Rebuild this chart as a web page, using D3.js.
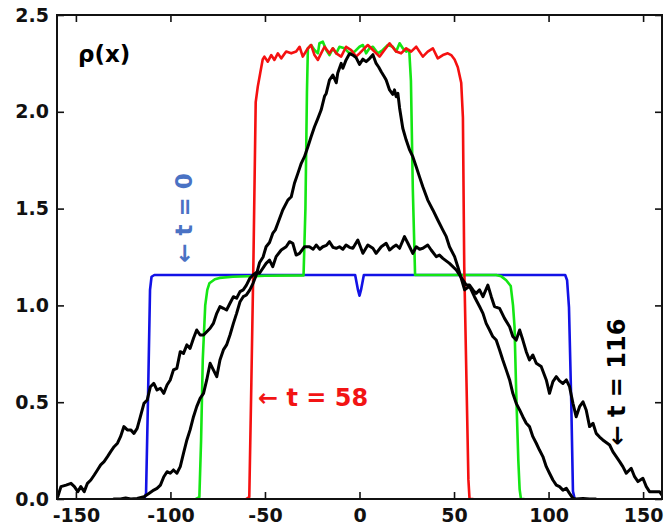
<!DOCTYPE html>
<html>
<head>
<meta charset="utf-8">
<script src="https://cdn.jsdelivr.net/npm/d3@7"></script>
<style>
  html, body { margin: 0; padding: 0; background: #fff; }
  svg { display: block; }
</style>
</head>
<body>
<svg id="chart" width="667" height="531"></svg>
<script>
// ---------------- data ----------------
const xTicks = [-150, -100, -50, 0, 50, 100, 150];
const xTickLabels = ["-150", "-100", "-50", "0", "50", "100", "150"];
const yTicks = [0, 0.5, 1.0, 1.5, 2.0, 2.5];
const yTickLabels = ["0.0", "0.5", "1.0", "1.5", "2.0", "2.5"];

// t = 0 (blue)
const blueT0 = [
  [-113.8, 0], [-112.9, 0.03], [-111.9, 0.5], [-110.8, 1.08], [-110.0, 1.148], [-108.5, 1.157],
  [-2.3, 1.157], [-0.8, 1.08], [0, 1.05], [0.8, 1.08], [2.3, 1.157],
  [108.8, 1.157], [109.8, 1.13], [110.8, 0.99], [112.0, 0.5], [112.9, 0.04], [113.8, 0]
];

// intermediate (green)
const greenMid = [
  [-86.5, 0], [-84.7, 0.01], [-83.8, 0.3], [-82.9, 0.72], [-81.6, 1.0], [-80.5, 1.08], [-79.4, 1.114],
  [-76.5, 1.135], [-74.0, 1.142], [-67.0, 1.148], [-50.0, 1.153], [-29.6, 1.155],
  [-28.6, 1.5], [-27.8, 2.1], [-27.3, 2.328], [-25.6, 2.345], [-23.8, 2.319], [-22.0, 2.302],
  [-21.2, 2.354], [-19.4, 2.362], [-17.6, 2.319], [-15.9, 2.293], [-14.1, 2.328], [-12.3, 2.302],
  [-10.6, 2.336], [-7.9, 2.328], [-5.3, 2.302], [-2.6, 2.311], [0, 2.336], [1.8, 2.345],
  [3.5, 2.302], [5.3, 2.328], [7.1, 2.336], [9.7, 2.302], [12.3, 2.319], [15.0, 2.345],
  [17.6, 2.336], [19.4, 2.311], [21.2, 2.354], [22.9, 2.328], [24.7, 2.311], [26.3, 2.319],
  [27.2, 2.16], [28.2, 1.6], [29.4, 1.157], [50.0, 1.157], [72.3, 1.157], [75.0, 1.15],
  [77.6, 1.13], [80.0, 1.10], [81.2, 1.0], [82.0, 0.89], [82.9, 0.546], [84.0, 0.2],
  [84.7, 0.05], [85.4, 0], [87.0, 0]
];

// t = 58 (red)
const redT58 = [
  [-60.0, 0], [-58.3, 0.01], [-57.2, 0.6], [-56.1, 1.23], [-54.9, 2.05], [-53.8, 2.13],
  [-52.5, 2.2], [-51.2, 2.27], [-50.3, 2.285], [-48.5, 2.259], [-46.7, 2.293], [-45.0, 2.268],
  [-43.2, 2.302], [-41.4, 2.276], [-38.8, 2.311], [-36.1, 2.302], [-33.5, 2.311], [-31.7, 2.336],
  [-30.0, 2.285], [-27.3, 2.328], [-25.6, 2.345], [-23.8, 2.293], [-22.0, 2.268], [-20.3, 2.302],
  [-18.5, 2.336], [-15.9, 2.302], [-14.1, 2.328], [-12.3, 2.302], [-9.7, 2.285], [-7.1, 2.336],
  [-4.4, 2.319], [-1.8, 2.285], [0, 2.302], [2.6, 2.328], [4.4, 2.345], [7.1, 2.319],
  [10.6, 2.285], [13.2, 2.319], [15.9, 2.354], [19.4, 2.311], [22.0, 2.302], [24.7, 2.328],
  [27.3, 2.311], [30.0, 2.336], [33.5, 2.285], [36.1, 2.311], [38.8, 2.328], [41.4, 2.276],
  [44.1, 2.293], [46.7, 2.302], [48.5, 2.293], [50.3, 2.27], [52.0, 2.23], [53.8, 2.15],
  [54.7, 1.97], [55.4, 1.2], [56.6, 0.6], [57.6, 0.1], [58.2, 0], [60.0, 0]
];

// t = 116 (black, narrow / tall)
const blackInner = [
  [-130.0, 0], [-126.4, 0], [-123.7, 0.005], [-121.0, 0], [-117.6, 0.003], [-114.0, 0.012],
  [-111.4, 0.029], [-108.8, 0.046], [-107.1, 0.055], [-105.3, 0.072], [-103.5, 0.115],
  [-101.8, 0.141], [-100.1, 0.133], [-98.4, 0.150], [-96.6, 0.133], [-94.8, 0.167],
  [-93.1, 0.236], [-91.3, 0.305], [-89.6, 0.357], [-87.8, 0.425], [-86.1, 0.477],
  [-84.3, 0.520], [-82.5, 0.546], [-80.8, 0.615], [-79.0, 0.701], [-77.3, 0.667],
  [-75.5, 0.632], [-73.8, 0.718], [-72.0, 0.770], [-70.3, 0.796], [-68.5, 0.847],
  [-66.7, 0.907], [-65.0, 0.959], [-63.2, 1.019], [-61.5, 1.045], [-59.8, 1.054],
  [-58.0, 1.080], [-56.3, 1.114], [-54.5, 1.16], [-52.9, 1.22], [-51.0, 1.25], [-49.4, 1.303],
  [-47.6, 1.325], [-45.9, 1.372], [-44.5, 1.39], [-43.2, 1.424], [-40.6, 1.493], [-37.9, 1.544],
  [-36.1, 1.561], [-34.4, 1.631], [-32.6, 1.682], [-30.8, 1.734], [-29.1, 1.768], [-27.3, 1.820],
  [-25.6, 1.871], [-23.8, 1.923], [-22.0, 1.966], [-20.3, 2.009], [-18.5, 2.08], [-17.6, 2.095],
  [-15.9, 2.164], [-14.1, 2.19], [-12.3, 2.15], [-11.5, 2.2], [-9.7, 2.25], [-8.8, 2.225],
  [-7.1, 2.268], [-5.3, 2.30], [-3.5, 2.293], [-1.8, 2.28], [0, 2.245], [1.8, 2.272],
  [3.5, 2.259], [5.3, 2.275], [7.1, 2.295], [8.8, 2.25], [10.2, 2.23], [11.5, 2.207],
  [13.2, 2.18], [14.1, 2.164], [15.9, 2.113], [17.6, 2.09], [18.5, 2.113], [19.4, 2.078],
  [20.3, 2.095], [21.2, 2.02], [22.9, 1.915], [24.7, 1.854], [26.5, 1.803], [28.2, 1.768],
  [30.0, 1.716], [31.7, 1.665], [33.5, 1.613], [36.1, 1.544], [38.8, 1.493], [41.4, 1.441],
  [44.1, 1.389], [45.9, 1.355], [47.6, 1.303], [50.3, 1.252], [52.0, 1.2], [53.5, 1.15],
  [55.6, 1.08], [58.2, 1.10], [60.8, 1.045], [63.5, 0.994], [65.3, 0.959], [67.0, 0.907],
  [68.8, 0.873], [70.5, 0.839], [72.3, 0.821], [74.1, 0.770], [75.8, 0.718], [77.6, 0.667],
  [79.4, 0.615], [81.1, 0.546], [82.9, 0.494], [84.7, 0.460], [86.4, 0.425], [88.2, 0.391],
  [89.9, 0.374], [91.7, 0.322], [93.5, 0.288], [95.2, 0.253], [97.0, 0.219], [98.8, 0.167],
  [100.5, 0.133], [102.3, 0.098], [104.1, 0.072], [105.8, 0.064], [107.6, 0.046], [109.4, 0.055],
  [111.1, 0.029], [112.9, 0.003], [114.6, 0], [118.2, 0.003], [121.7, 0], [125.0, 0]
];

// t = 116 (black, wide / flat)
const blackOuter = [
  [-160.0, 0.02], [-159.6, 0.012], [-157.9, 0.064], [-155.2, 0.072], [-152.6, 0.081],
  [-150.8, 0.064], [-149.0, 0.038], [-147.4, 0.064], [-145.6, 0.038], [-143.9, 0.081],
  [-142.1, 0.098], [-140.3, 0.124], [-138.6, 0.150], [-136.9, 0.176], [-135.1, 0.193],
  [-133.3, 0.219], [-131.6, 0.245], [-129.8, 0.270], [-128.0, 0.288], [-126.4, 0.322],
  [-124.6, 0.374], [-122.8, 0.357], [-121.0, 0.357], [-119.3, 0.339], [-117.6, 0.365],
  [-115.9, 0.425], [-114.0, 0.494], [-112.3, 0.511], [-110.6, 0.580], [-108.8, 0.597],
  [-107.1, 0.563], [-105.3, 0.572], [-103.5, 0.546], [-101.8, 0.589], [-100.1, 0.615],
  [-98.4, 0.667], [-96.6, 0.675], [-94.8, 0.761], [-93.1, 0.752], [-91.3, 0.796],
  [-89.6, 0.778], [-87.8, 0.830], [-86.1, 0.873], [-84.3, 0.847], [-82.5, 0.847],
  [-80.8, 0.864], [-79.0, 0.882], [-77.3, 0.907], [-75.5, 0.959], [-73.8, 0.994],
  [-72.0, 0.985], [-70.3, 0.976], [-68.5, 1.011], [-66.7, 1.045], [-65.0, 1.037],
  [-63.2, 1.071], [-61.5, 1.080], [-59.8, 1.105], [-58.0, 1.140], [-56.3, 1.157],
  [-54.5, 1.17], [-52.9, 1.166], [-49.4, 1.217], [-47.6, 1.234], [-45.9, 1.2], [-44.1, 1.252],
  [-41.4, 1.286], [-38.8, 1.303], [-37.0, 1.329], [-35.3, 1.321], [-33.5, 1.26], [-31.7, 1.269],
  [-29.1, 1.303], [-26.5, 1.303], [-24.5, 1.29], [-22.9, 1.312], [-21.0, 1.29], [-19.4, 1.303],
  [-17.5, 1.31], [-15.9, 1.329], [-14.0, 1.30], [-12.3, 1.295], [-10.6, 1.303], [-8.8, 1.29],
  [-7.1, 1.312], [-5.3, 1.30], [-3.5, 1.295], [-0.9, 1.338], [1.8, 1.269], [4.4, 1.312],
  [7.1, 1.295], [8.8, 1.269], [11.5, 1.303], [14.1, 1.321], [15.9, 1.286], [17.6, 1.30],
  [19.4, 1.312], [21.2, 1.295], [23.8, 1.355], [25.6, 1.321], [28.2, 1.269], [30.0, 1.303],
  [31.8, 1.29], [33.5, 1.295], [36.1, 1.312], [37.9, 1.286], [40.6, 1.252], [42.3, 1.26],
  [44.1, 1.243], [47.6, 1.217], [51.2, 1.183], [54.7, 1.131], [56.5, 1.105], [58.2, 1.105],
  [60.0, 1.08], [61.7, 1.062], [63.5, 1.08], [65.3, 1.045], [67.9, 1.105], [69.7, 1.045],
  [71.4, 0.994], [74.1, 0.985], [76.7, 0.933], [79.4, 0.890], [81.1, 0.839], [82.9, 0.821],
  [84.7, 0.873], [86.4, 0.821], [88.2, 0.761], [89.9, 0.718], [91.7, 0.744], [93.5, 0.701],
  [96.1, 0.684], [98.8, 0.615], [100.5, 0.546], [102.3, 0.606], [104.1, 0.632], [105.8, 0.61],
  [107.6, 0.597], [109.4, 0.615], [111.1, 0.580], [112.9, 0.494], [114.6, 0.425], [116.4, 0.477],
  [118.2, 0.502], [119.9, 0.460], [121.7, 0.374], [123.5, 0.391], [125.2, 0.339], [127.0, 0.32],
  [128.7, 0.305], [132.3, 0.279], [134.0, 0.245], [135.8, 0.219], [137.6, 0.193], [139.3, 0.167],
  [141.1, 0.133], [143.7, 0.159], [145.5, 0.115], [147.3, 0.090], [149.9, 0.107], [151.7, 0.064],
  [153.4, 0.038], [156.1, 0.038], [158.7, 0.038], [160.0, 0.02]
];

const yLabelText = "ρ(x)";
const seriesLabels = ["← t = 0", "← t = 58", "← t = 116"];

// ---------------- drawing ----------------
(function () {
const svg = d3.select("#chart");
const mLeft = 57, mRight = 662, mTop = 15, mBottom = 499;
const x = d3.scaleLinear().domain([-160, 160]).range([mLeft, mRight]);
const y = d3.scaleLinear().domain([0, 2.5]).range([mBottom, mTop]);
const FONT = "'DejaVu Sans', 'Liberation Sans', Arial, sans-serif";

svg.append("defs").append("clipPath").attr("id", "plotclip")
  .append("rect").attr("x", mLeft).attr("y", mTop - 5)
  .attr("width", mRight - mLeft).attr("height", mBottom - mTop + 5);

const line = d3.line().x(d => x(d[0])).y(d => y(d[1])).curve(d3.curveLinear);
const plot = svg.append("g").attr("clip-path", "url(#plotclip)");

function drawSeries(data, color, width) {
  plot.append("path").datum(data)
    .attr("d", line)
    .attr("fill", "none")
    .attr("stroke", color)
    .attr("stroke-width", width)
    .attr("stroke-linejoin", "round")
    .attr("stroke-linecap", "round");
}
drawSeries(blueT0, "#1212e6", 2.6);
drawSeries(greenMid, "#14e614", 2.6);
drawSeries(redT58, "#f51010", 2.6);
drawSeries(blackOuter, "#000", 3);
drawSeries(blackInner, "#000", 3);

const fmtX = d => xTickLabels[xTicks.indexOf(d)];
const fmtY = d => yTickLabels[yTicks.indexOf(d)];

const axB = svg.append("g").attr("transform", `translate(0,${mBottom})`)
  .call(d3.axisBottom(x).tickValues(xTicks).tickSizeInner(-7).tickSizeOuter(0).tickPadding(10).tickFormat(fmtX));
const axT = svg.append("g").attr("transform", `translate(0,${mTop})`)
  .call(d3.axisTop(x).tickValues(xTicks).tickSizeInner(-7).tickSizeOuter(0).tickFormat(""));
const axL = svg.append("g").attr("transform", `translate(${mLeft},0)`)
  .call(d3.axisLeft(y).tickValues(yTicks).tickSizeInner(-7).tickSizeOuter(0).tickPadding(8).tickFormat(fmtY));
const axR = svg.append("g").attr("transform", `translate(${mRight},0)`)
  .call(d3.axisRight(y).tickValues(yTicks).tickSizeInner(-7).tickSizeOuter(0).tickFormat(""));

[axB, axT, axL, axR].forEach(g => {
  g.select(".domain").remove();
  g.selectAll(".tick line").attr("stroke", "#111").attr("stroke-width", 1.6);
  g.selectAll(".tick text")
    .attr("font-family", FONT).attr("font-weight", "bold")
    .attr("font-size", 19).attr("fill", "#111");
});

svg.append("rect")
  .attr("x", mLeft).attr("y", mTop)
  .attr("width", mRight - mLeft).attr("height", mBottom - mTop)
  .attr("fill", "none").attr("stroke", "#111").attr("stroke-width", 2);

svg.append("text")
  .attr("x", 78).attr("y", 62)
  .attr("font-family", FONT).attr("font-weight", "bold").attr("font-size", 23)
  .attr("fill", "#000").text(yLabelText);

svg.append("text")
  .attr("transform", "translate(192,218) rotate(-90)")
  .attr("text-anchor", "middle")
  .attr("font-family", FONT).attr("font-weight", "bold").attr("font-size", 23)
  .attr("fill", "#4a72c4").text(seriesLabels[0]);

svg.append("text")
  .attr("x", 258).attr("y", 406)
  .attr("font-family", FONT).attr("font-weight", "bold").attr("font-size", 24)
  .attr("fill", "#f21414").text(seriesLabels[1]);

svg.append("text")
  .attr("transform", "translate(625,382) rotate(-90)")
  .attr("text-anchor", "middle")
  .attr("font-family", FONT).attr("font-weight", "bold").attr("font-size", 24)
  .attr("fill", "#000").text(seriesLabels[2]);
})();
</script>
</body>
</html>
